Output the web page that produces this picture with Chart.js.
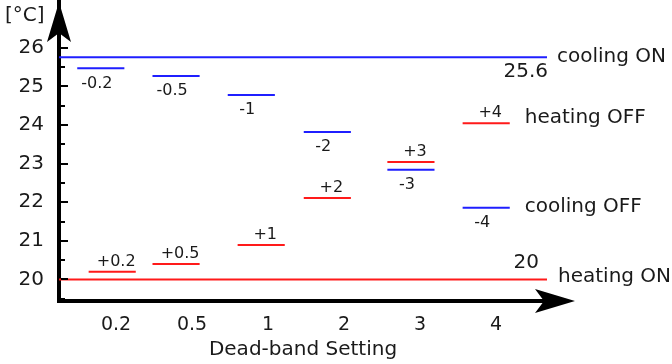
<!DOCTYPE html>
<html>
<head>
<meta charset="utf-8">
<script src="https://cdn.jsdelivr.net/npm/chart.js@4/dist/chart.umd.min.js"></script>
<style>
  body { margin: 0; background: #fff; }
  canvas { display: block; }
</style>
</head>
<body>
<canvas id="c" width="672" height="364"></canvas>
<script>
// categories (dead-band settings) and where their labels sit on the x scale
const deadBands = ["0.2", "0.5", "1", "2", "3", "4"];
const deadBandPos = [1, 2, 3, 4, 5, 6];

// y axis ticks
const yTicks = [20, 21, 22, 23, 24, 25, 26];

// fixed set points
const coolingOn = 25.76;
const heatingOn = 20;

// cooling OFF (blue) segments
const coolOffX = [0.80, 1.79, 2.78, 3.78, 4.88, 5.87];
const coolOffY = [25.47, 25.27, 24.78, 23.82, 22.84, 21.86];
const coolOffLabels = ["-0.2", "-0.5", "-1", "-2", "-3", "-4"];

// heating OFF (red) segments
const heatOffX = [0.95, 1.79, 2.91, 3.78, 4.88, 5.87];
const heatOffY = [20.2, 20.4, 20.89, 22.11, 23.04, 24.05];
const heatOffLabels = ["+0.2", "+0.5", "+1", "+2", "+3", "+4"];

const segHalf = 0.31;
const xMin = 0.25, xMax = 6.67;

const FONT = "DejaVu Sans";
const INK = "#1a1a1a";
const BLUE = "#1f1fff";
const RED = "#ff1a1a";

// une série "segments" : deux points puis un trou
function segments(xs, ys) {
  const out = [];
  xs.forEach((x, i) => {
    out.push({ x: x - segHalf, y: ys[i] });
    out.push({ x: x + segHalf, y: ys[i] });
    out.push({ x: x + segHalf, y: null });
  });
  return out;
}

const decor = {
  id: "decor",
  afterDraw(chart) {
    const ctx = chart.ctx;
    const a = chart.chartArea;
    const xs = chart.scales.x, ys = chart.scales.y;
    ctx.save();

    // petites graduations vers l'intérieur
    ctx.strokeStyle = "#000";
    ctx.lineWidth = 2;
    for (let v = 19.5; v <= 26.01; v += 0.5) {
      const y = Math.round(ys.getPixelForValue(v));
      const len = Number.isInteger(v) ? 7 : 4;
      ctx.beginPath();
      ctx.moveTo(a.left + 2, y);
      ctx.lineTo(a.left + 2 + len, y);
      ctx.stroke();
    }

    // flèches
    ctx.fillStyle = "#000";
    ctx.beginPath();
    ctx.moveTo(a.left, a.top);
    ctx.lineTo(a.left + 12, a.top + 40);
    ctx.lineTo(a.left, a.top + 31);
    ctx.lineTo(a.left - 12, a.top + 40);
    ctx.closePath();
    ctx.fill();

    const yb = a.bottom;
    ctx.beginPath();
    ctx.moveTo(a.right + 28, yb);
    ctx.lineTo(a.right - 12, yb - 12);
    ctx.lineTo(a.right - 3, yb);
    ctx.lineTo(a.right - 12, yb + 12);
    ctx.closePath();
    ctx.fill();

    ctx.fillStyle = INK;
    ctx.textBaseline = "middle";

    // étiquettes des segments
    ctx.font = "16px '" + FONT + "'";
    ctx.textAlign = "center";
    coolOffX.forEach((x, i) => {
      ctx.fillText(coolOffLabels[i], xs.getPixelForValue(x) - 4, ys.getPixelForValue(coolOffY[i]) + 15);
    });
    heatOffX.forEach((x, i) => {
      ctx.fillText(heatOffLabels[i], xs.getPixelForValue(x) + 4, ys.getPixelForValue(heatOffY[i]) - 10);
    });

    // textes à droite
    ctx.font = "20px '" + FONT + "'";
    ctx.textAlign = "left";
    const yOn = ys.getPixelForValue(coolingOn);
    const yH = ys.getPixelForValue(heatingOn);
    ctx.fillText("cooling ON", a.right + 10, yOn);
    ctx.fillText("heating ON", a.right + 11, yH - 3);
    ctx.fillText("heating OFF", xs.getPixelForValue(heatOffX[5] + segHalf) + 15, ys.getPixelForValue(heatOffY[5]) - 5);
    ctx.fillText("cooling OFF", xs.getPixelForValue(coolOffX[5] + segHalf) + 15, ys.getPixelForValue(coolOffY[5]) - 1);
    ctx.textAlign = "right";
    ctx.fillText(String(25.6), a.right + 1, yOn + 15);
    ctx.fillText(String(heatingOn), a.right - 8, yH - 17);

    // unité
    ctx.textAlign = "left";
    ctx.fillText("[°C]", 5, 16);
    ctx.restore();
  },
};

new Chart(document.getElementById("c").getContext("2d"), {
  type: "line",
  data: {
    datasets: [
      {
        label: "cooling ON",
        data: [{ x: xMin, y: coolingOn }, { x: xMax, y: coolingOn }],
        borderColor: BLUE,
      },
      {
        label: "heating ON",
        data: [{ x: xMin, y: heatingOn }, { x: xMax, y: heatingOn }],
        borderColor: RED,
      },
      {
        label: "cooling OFF",
        data: segments(coolOffX, coolOffY),
        borderColor: BLUE,
      },
      {
        label: "heating OFF",
        data: segments(heatOffX, heatOffY),
        borderColor: RED,
      },
    ],
  },
  options: {
    responsive: false,
    animation: false,
    spanGaps: false,
    layout: { padding: { top: 2, right: 125, left: 0, bottom: 0 } },
    elements: {
      line: { borderWidth: 2, tension: 0 },
      point: { radius: 0, hoverRadius: 0 },
    },
    plugins: {
      legend: { display: false },
      tooltip: { enabled: false },
    },
    scales: {
      x: {
        type: "linear",
        min: xMin,
        max: xMax,
        afterBuildTicks: (s) => {
          s.ticks = deadBandPos.map((v) => ({ value: v }));
        },
        afterFit: (s) => {
          s.height = 63;
          s.paddingLeft = 0;
          s.paddingRight = 0;
        },
        grid: { display: false },
        border: { display: true, color: "#000", width: 4 },
        ticks: {
          color: INK,
          padding: 5,
          font: { family: FONT, size: 19 },
          autoSkip: false,
          maxRotation: 0,
          callback: (v) => deadBands[deadBandPos.indexOf(v)],
        },
        title: {
          display: true,
          text: "Dead-band Setting",
          color: INK,
          font: { family: FONT, size: 20 },
          padding: { top: 0, bottom: 2 },
        },
      },
      y: {
        type: "linear",
        min: 19.44,
        max: 27.19,
        afterBuildTicks: (s) => {
          s.ticks = yTicks.map((v) => ({ value: v }));
        },
        afterFit: (s) => {
          s.width = 59;
          s.paddingTop = 0;
          s.paddingBottom = 0;
        },
        grid: { display: false },
        border: { display: true, color: "#000", width: 4 },
        ticks: {
          color: INK,
          padding: 7,
          font: { family: FONT, size: 20 },
        },
      },
    },
  },
  plugins: [decor],
});
</script>
</body>
</html>
